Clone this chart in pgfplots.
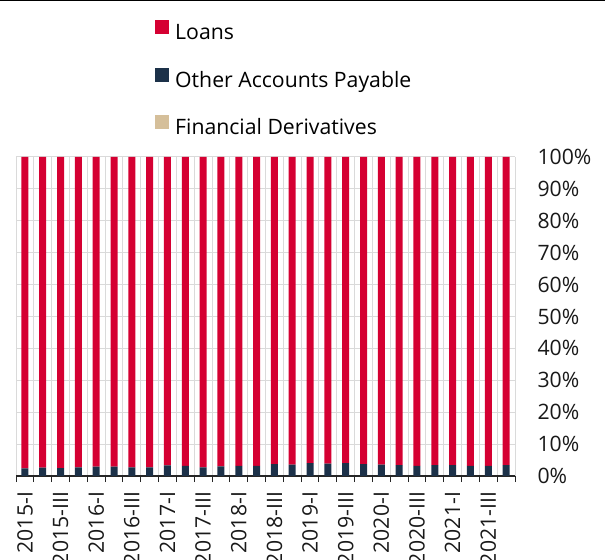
\documentclass[border=0pt]{standalone}
\usepackage{pgfplots}
\usepackage{pgfplotstable}
\pgfplotsset{compat=1.18}
\usepackage{fontspec}
\setmainfont{Open Sans}
\definecolor{loanred}{HTML}{D50032}
\definecolor{navy}{HTML}{1C3149}
\definecolor{beige}{HTML}{D5BF9A}
\definecolor{gridgray}{HTML}{DADADA}

\pgfplotstableread{
x fd oap loans
0 0 2.4 97.6
1 0 2.6 97.4
2 0 2.5 97.5
3 0 2.7 97.3
4 0 2.9 97.1
5 0 2.9 97.1
6 0 2.7 97.3
7 0 2.7 97.3
8 0 3.3 96.7
9 0 3.2 96.8
10 0 2.7 97.3
11 0 3.0 97.0
12 0 3.2 96.8
13 0 3.2 96.8
14 0 3.7 96.3
15 0 3.6 96.4
16 0 4.0 96.0
17 0 3.9 96.1
18 0 4.0 96.0
19 0 3.7 96.3
20 0 3.6 96.4
21 0 3.4 96.6
22 0 3.2 96.8
23 0 3.4 96.6
24 0 3.4 96.6
25 0 3.2 96.8
26 0 3.2 96.8
27 0 3.4 96.6
}\datatable

\begin{document}
\begin{tikzpicture}
\path[use as bounding box] (0,0) rectangle (605bp,560bp);
\draw[black, line width=1.5bp] (0,559.4bp) -- (605bp,559.4bp);
\begin{axis}[
  at={(16bp,84bp)}, anchor=south west,
  scale only axis, width=499bp, height=319bp,
  ybar stacked, bar width=7bp,
  xmin=-0.5, xmax=27.5, ymin=0, ymax=100,
  axis x line*=bottom, axis y line*=right,
  y axis line style={draw=none},
  x axis line style={draw=black!85, line width=1.2bp, -},
  xtick={0,2,...,26},
  xticklabels={2015-I,2015-III,2016-I,2016-III,2017-I,2017-III,2018-I,2018-III,2019-I,2019-III,2020-I,2020-III,2021-I,2021-III},
  minor xtick={-0.5,0.5,...,27.5},
  xtick align=outside,
  major tick length=0pt,
  minor tick length=6bp,
  minor x tick style={draw=black!85, line width=1bp},
  xminorgrids,
  minor x grid style={gridgray, line width=1bp},
  ytick={0,10,...,100},
  ymajorgrids,
  major y grid style={gridgray, line width=1bp},
  /pgf/number format/assume math mode=true,
  yticklabel={\pgfmathprintnumber{\tick}\%},
  tick label style={font=\fontsize{21.3}{24}\selectfont, text=black!90},
  xticklabel style={yshift=-12.5bp, rotate=90, anchor=east},
  yticklabel style={anchor=west, xshift=19bp},
  legend style={at={(axis description cs:0.2786,1.4295)}, anchor=north west,
    draw=none, fill=none, inner sep=0pt, row sep=23bp, column sep=3bp,
    font=\fontsize{21.3}{24}\selectfont,
    nodes={inner ysep=0pt, inner xsep=3.5bp, text height=16bp, text depth=5bp}},
  legend cell align=left,
  reverse legend,
  legend image code/.code={\path[#1, draw=none] (0bp,0bp) rectangle (13.5bp,14bp);},
]
\addplot[fill=beige, draw=none] table[x=x, y=fd] {\datatable};
\addplot[fill=navy, draw=none] table[x=x, y=oap] {\datatable};
\addplot[fill=loanred, draw=none] table[x=x, y=loans] {\datatable};
\legend{Financial Derivatives, Other Accounts Payable, Loans}
\end{axis}
\end{tikzpicture}
\end{document}
